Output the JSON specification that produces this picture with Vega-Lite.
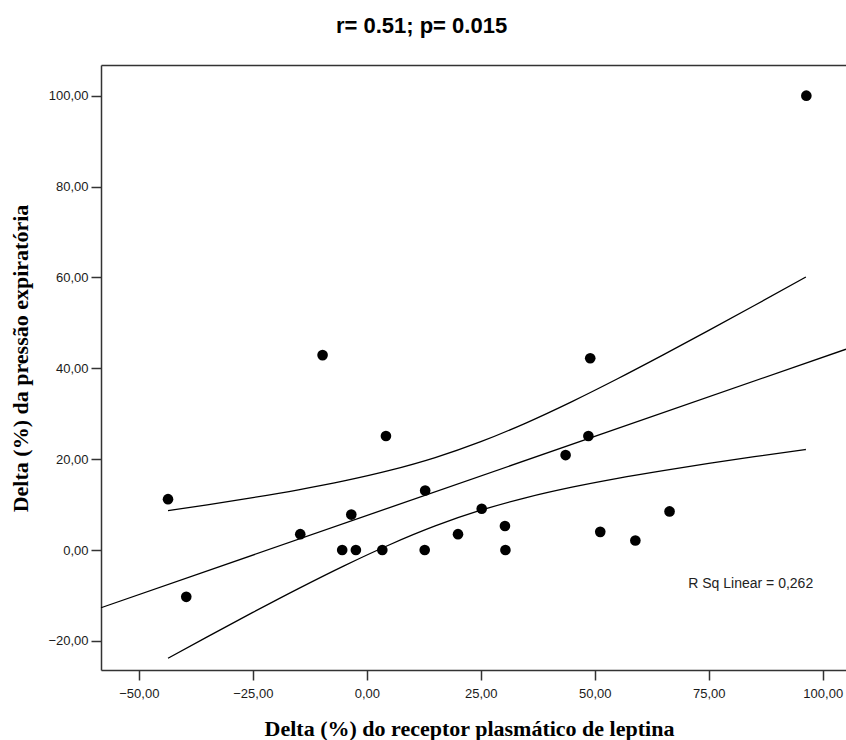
{
  "$schema": "https://vega.github.io/schema/vega-lite/v6.json",
  "width": 745,
  "height": 605,
  "autosize": "none",
  "padding": {"left": 101, "top": 65, "right": 0, "bottom": 70},
  "background": "white",
  "config": {"view": {"stroke": null}},
  "title": {
    "text": "r= 0.51; p= 0.015",
    "font": "Liberation Sans",
    "fontSize": 22,
    "fontWeight": "bold",
    "color": "#000000",
    "anchor": "middle",
    "frame": "group",
    "dx": -52,
    "offset": 10,
    "baseline": "alphabetic"
  },
  "datasets": {
    "points": [
      {"x": 96.4, "y": 100.0},
      {"x": -43.6, "y": 11.2},
      {"x": -39.6, "y": -10.3},
      {"x": -9.7, "y": 42.9},
      {"x": -14.6, "y": 3.5},
      {"x": -3.4, "y": 7.8},
      {"x": -5.4, "y": 0.0},
      {"x": -2.4, "y": 0.0},
      {"x": 4.2, "y": 25.1},
      {"x": 3.4, "y": 0.0},
      {"x": 12.8, "y": 13.1},
      {"x": 12.7, "y": 0.0},
      {"x": 20.0, "y": 3.5},
      {"x": 25.2, "y": 9.1},
      {"x": 30.3, "y": 5.3},
      {"x": 30.4, "y": 0.0},
      {"x": 49.0, "y": 42.2},
      {"x": 48.6, "y": 25.1},
      {"x": 43.6, "y": 20.9},
      {"x": 66.4, "y": 8.5},
      {"x": 51.2, "y": 4.0},
      {"x": 58.9, "y": 2.1}
    ],
    "lines": [
      {"series": "fit", "x": -58.3, "y": -12.7},
      {"series": "fit", "x": 105.1, "y": 44.2},
      {"series": "upper", "x": -43.6, "y": 8.68},
      {"series": "upper", "x": -35, "y": 9.96},
      {"series": "upper", "x": -25, "y": 11.53},
      {"series": "upper", "x": -15, "y": 13.25},
      {"series": "upper", "x": -5, "y": 15.2},
      {"series": "upper", "x": 5, "y": 17.51},
      {"series": "upper", "x": 15, "y": 20.34},
      {"series": "upper", "x": 25, "y": 23.84},
      {"series": "upper", "x": 35, "y": 28.0},
      {"series": "upper", "x": 45, "y": 32.67},
      {"series": "upper", "x": 55, "y": 37.69},
      {"series": "upper", "x": 65, "y": 42.94},
      {"series": "upper", "x": 75, "y": 48.33},
      {"series": "upper", "x": 85, "y": 53.82},
      {"series": "upper", "x": 96.3, "y": 60.09},
      {"series": "lower", "x": -43.6, "y": -23.82},
      {"series": "lower", "x": -35, "y": -19.12},
      {"series": "lower", "x": -25, "y": -13.73},
      {"series": "lower", "x": -15, "y": -8.49},
      {"series": "lower", "x": -5, "y": -3.48},
      {"series": "lower", "x": 5, "y": 1.17},
      {"series": "lower", "x": 15, "y": 5.3},
      {"series": "lower", "x": 25, "y": 8.76},
      {"series": "lower", "x": 35, "y": 11.56},
      {"series": "lower", "x": 45, "y": 13.85},
      {"series": "lower", "x": 55, "y": 15.79},
      {"series": "lower", "x": 65, "y": 17.5},
      {"series": "lower", "x": 75, "y": 19.07},
      {"series": "lower", "x": 85, "y": 20.54},
      {"series": "lower", "x": 96.3, "y": 22.13}
    ],
    "note": [
      {"x": 70.5, "y": -8.35, "label": "R Sq Linear = 0,262"}
    ]
  },
  "encoding": {
    "y": {
      "field": "y",
      "type": "quantitative",
      "scale": {"domain": [-26.4, 106.75], "nice": false, "zero": false},
      "axis": {
        "orient": "left",
        "values": [-20, 0, 20, 40, 60, 80, 100],
        "labelExpr": "replace(format(datum.value, '.2f'), '.', ',')",
        "labelFont": "Liberation Sans",
        "labelFontSize": 13,
        "labelColor": "#1a1a1a",
        "labelPadding": 3,
        "tickSize": 10,
        "tickColor": "#333333",
        "tickWidth": 1.5,
        "domainColor": "#333333",
        "domainWidth": 1.5,
        "grid": false,
        "title": "Delta (%) da pressão expiratória",
        "titleFont": "Liberation Serif",
        "titleFontSize": 22,
        "titleFontWeight": "bold",
        "titleColor": "#000000",
        "titleAngle": 270,
        "titleAlign": "center",
        "titleBaseline": "alphabetic",
        "titleX": -74,
        "titleY": 293
      }
    }
  },
  "layer": [
    {
      "data": {"name": "lines"},
      "mark": {"type": "line", "interpolate": "monotone", "color": "#000000", "strokeWidth": 1.3},
      "encoding": {
        "x": {
          "field": "x",
          "type": "quantitative",
          "scale": {"domain": [-58.3, 105.1], "nice": false, "zero": false},
          "axis": {
            "orient": "bottom",
            "values": [-50, -25, 0, 25, 50, 75, 100],
            "labelExpr": "replace(format(datum.value, '.2f'), '.', ',')",
            "labelFont": "Liberation Sans",
            "labelFontSize": 13,
            "labelColor": "#1a1a1a",
            "labelPadding": 7,
            "tickSize": 10,
            "tickColor": "#333333",
            "tickWidth": 1.5,
            "domainColor": "#333333",
            "domainWidth": 1.5,
            "grid": false,
            "title": "Delta (%) do receptor plasmático de leptina",
            "titleFont": "Liberation Serif",
            "titleFontSize": 22,
            "titleFontWeight": "bold",
            "titleColor": "#000000",
            "titleAlign": "center",
            "titleBaseline": "alphabetic",
            "titleX": 368,
            "titleY": 65
          }
        },
        "detail": {"field": "series", "type": "nominal"}
      }
    },
    {
      "data": {"name": "points"},
      "mark": {"type": "point", "filled": true, "size": 113, "color": "#000000", "opacity": 1},
      "encoding": {
        "x": {"field": "x", "type": "quantitative", "axis": null}
      }
    },
    {
      "data": {"name": "note"},
      "mark": {"type": "text", "align": "left", "baseline": "alphabetic", "font": "Liberation Sans", "fontSize": 14, "color": "#222222"},
      "encoding": {
        "x": {"field": "x", "type": "quantitative", "axis": null},
        "text": {"field": "label", "type": "nominal"}
      }
    },
    {
      "data": {"name": "points"},
      "mark": {"type": "point", "opacity": 0},
      "encoding": {
        "x": {
          "field": "x",
          "type": "quantitative",
          "axis": {
            "orient": "top",
            "labels": false,
            "ticks": false,
            "grid": false,
            "title": null,
            "domain": true,
            "domainColor": "#333333",
            "domainWidth": 1.5
          }
        }
      }
    }
  ],
  "resolve": {"axis": {"x": "independent"}}
}
